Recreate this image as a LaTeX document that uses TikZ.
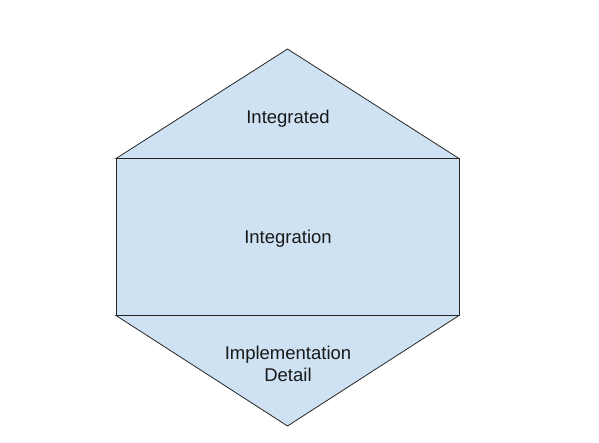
\documentclass[tikz,border=0pt]{standalone}
\usepackage{fontspec}
\setmainfont{Liberation Sans}
\definecolor{paneblue}{HTML}{CFE2F3}
\begin{document}
\begin{tikzpicture}[x=1pt,y=-1pt,
  pane/.style={fill=paneblue,draw=black!85,line width=0.8pt,line join=miter},
  lbl/.style={font=\fontsize{18.5}{22}\selectfont,align=center,text=black!90,inner sep=0pt}]
\useasboundingbox (0,0) rectangle (599,443);
\coordinate (top) at (287.5,49);
\coordinate (tl) at (116,158.5);
\coordinate (tr) at (459,158.5);
\coordinate (bl) at (116,315.5);
\coordinate (br) at (459,315.5);
\coordinate (bot) at (287.5,426);
\draw[pane] (tl) -- (top) -- (tr) -- cycle;
\draw[pane] (tl) rectangle (br);
\draw[pane] (bl) -- (br) -- (bot) -- cycle;
\node[lbl] (integrated) at (288,118.5) {Integrated};
\node[lbl] (integration) at (288,238.5) {Integration};
\node[lbl] (impl) at (288,364) {Implementation\\Detail};
\end{tikzpicture}
\end{document}
